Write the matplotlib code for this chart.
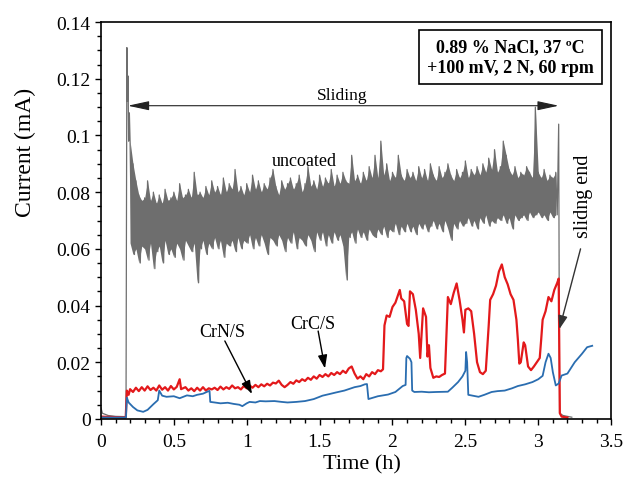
import numpy as np
import matplotlib.pyplot as plt
from matplotlib.ticker import MultipleLocator, FuncFormatter

plt.rcParams['font.family'] = ['Liberation Serif', 'DejaVu Serif']

# uncoated: rest, start-up spike
uncoated_head_t = [0.0, 0.01, 0.05, 0.10, 0.172, 0.178, 0.182, 0.186, 0.19, 0.195]
uncoated_head_y = [0.004, 0.002, 0.0012, 0.0009, 0.0008, 0.131, 0.112, 0.121, 0.098, 0.108]

# uncoated during sliding, one reading every 0.01 h from 0.20 h (one row = 0.1 h),
# alternating upper / lower swing of the noise
uncoated_sliding = [
    0.098, 0.062, 0.090, 0.058, 0.084, 0.060, 0.079, 0.055, 0.077, 0.061,
    0.078, 0.060, 0.084, 0.056, 0.077, 0.062, 0.080, 0.053, 0.076, 0.059,
    0.079, 0.061, 0.076, 0.055, 0.081, 0.063, 0.077, 0.058, 0.078, 0.060,
    0.080, 0.057, 0.077, 0.062, 0.083, 0.060, 0.078, 0.056, 0.079, 0.063,
    0.081, 0.061, 0.078, 0.059, 0.087, 0.062, 0.079, 0.048, 0.080, 0.060,
    0.078, 0.063, 0.082, 0.058, 0.079, 0.062, 0.084, 0.060, 0.080, 0.064,
    0.082, 0.060, 0.079, 0.063, 0.085, 0.057, 0.080, 0.062, 0.083, 0.061,
    0.081, 0.063, 0.088, 0.059, 0.080, 0.064, 0.082, 0.060, 0.079, 0.063,
    0.083, 0.062, 0.080, 0.065, 0.086, 0.060, 0.081, 0.064, 0.084, 0.061,
    0.080, 0.065, 0.083, 0.062, 0.081, 0.058, 0.085, 0.064, 0.088, 0.063,
    0.082, 0.061, 0.079, 0.065, 0.084, 0.063, 0.081, 0.059, 0.083, 0.064,
    0.085, 0.062, 0.081, 0.066, 0.083, 0.060, 0.086, 0.064, 0.080, 0.063,
    0.083, 0.061, 0.089, 0.065, 0.082, 0.063, 0.084, 0.059, 0.081, 0.066,
    0.086, 0.063, 0.082, 0.066, 0.085, 0.061, 0.083, 0.065, 0.088, 0.062,
    0.082, 0.066, 0.086, 0.063, 0.083, 0.065, 0.087, 0.061, 0.084, 0.049,
    0.083, 0.064, 0.093, 0.066, 0.084, 0.062, 0.086, 0.067, 0.083, 0.064,
    0.087, 0.066, 0.084, 0.063, 0.089, 0.067, 0.085, 0.065, 0.093, 0.064,
    0.085, 0.067, 0.098, 0.065, 0.086, 0.068, 0.090, 0.064, 0.084, 0.067,
    0.087, 0.066, 0.085, 0.069, 0.093, 0.065, 0.086, 0.068, 0.084, 0.066,
    0.088, 0.069, 0.085, 0.066, 0.087, 0.068, 0.084, 0.065, 0.089, 0.069,
    0.085, 0.067, 0.088, 0.069, 0.084, 0.066, 0.090, 0.068, 0.086, 0.070,
    0.084, 0.067, 0.089, 0.069, 0.085, 0.066, 0.087, 0.070, 0.090, 0.067,
    0.086, 0.063, 0.084, 0.069, 0.088, 0.067, 0.085, 0.070, 0.087, 0.068,
    0.091, 0.069, 0.085, 0.071, 0.088, 0.068, 0.086, 0.070, 0.089, 0.067,
    0.086, 0.071, 0.090, 0.069, 0.087, 0.072, 0.092, 0.068, 0.088, 0.070,
    0.095, 0.069, 0.087, 0.071, 0.089, 0.070, 0.098, 0.072, 0.093, 0.069,
    0.088, 0.071, 0.086, 0.067, 0.089, 0.072, 0.085, 0.070, 0.087, 0.071,
    0.086, 0.072, 0.089, 0.070, 0.087, 0.073, 0.085, 0.071, 0.110, 0.072,
    0.087, 0.073, 0.085, 0.071, 0.088, 0.072, 0.084, 0.070, 0.086, 0.073,
    0.085, 0.071, 0.087, 0.072,
]

# uncoated: sliding stopped
uncoated_tail_t = [3.14, 3.146, 3.17, 3.23]
uncoated_tail_y = [0.104, 0.002, 0.0012, 0.0006]

# CrC/S (t [h], I [mA])
crc = [
    (0.0, 0.0008), (0.17, 0.0005), (0.178, 0.010), (0.19, 0.0085), (0.20, 0.0105),
    (0.22, 0.0095), (0.24, 0.0110), (0.26, 0.0098), (0.28, 0.0112), (0.30, 0.0100),
    (0.32, 0.0115), (0.34, 0.0102), (0.36, 0.0110), (0.38, 0.0100), (0.40, 0.0118),
    (0.42, 0.0103), (0.44, 0.0112), (0.46, 0.0100), (0.48, 0.0116), (0.50, 0.0104),
    (0.52, 0.0113), (0.54, 0.0140), (0.55, 0.0105), (0.58, 0.0112), (0.60, 0.0100),
    (0.62, 0.0108), (0.64, 0.0098), (0.66, 0.0110), (0.68, 0.0100), (0.70, 0.0112),
    (0.72, 0.0100), (0.74, 0.0108), (0.76, 0.0104), (0.78, 0.0110), (0.80, 0.0102),
    (0.82, 0.0114), (0.84, 0.0104), (0.86, 0.0112), (0.88, 0.0106), (0.90, 0.0118),
    (0.92, 0.0108), (0.94, 0.0112), (0.96, 0.0104), (0.98, 0.0116), (1.00, 0.0108),
    (1.02, 0.0118), (1.04, 0.0110), (1.06, 0.0120), (1.08, 0.0112), (1.10, 0.0122),
    (1.12, 0.0115), (1.14, 0.0124), (1.16, 0.0118), (1.18, 0.0128), (1.20, 0.0125),
    (1.22, 0.0135), (1.24, 0.0120), (1.26, 0.0112), (1.28, 0.0120), (1.30, 0.0130),
    (1.32, 0.0124), (1.34, 0.0136), (1.36, 0.0130), (1.38, 0.0140), (1.40, 0.0134),
    (1.42, 0.0145), (1.44, 0.0138), (1.46, 0.0150), (1.48, 0.0142), (1.50, 0.0155),
    (1.52, 0.0148), (1.54, 0.0158), (1.56, 0.0150), (1.58, 0.0162), (1.60, 0.0155),
    (1.62, 0.0165), (1.64, 0.0158), (1.66, 0.0170), (1.68, 0.0162), (1.70, 0.0178),
    (1.72, 0.0185), (1.74, 0.0160), (1.76, 0.0142), (1.78, 0.0150), (1.80, 0.0140),
    (1.82, 0.0158), (1.84, 0.0150), (1.86, 0.0165), (1.88, 0.0158), (1.90, 0.0172),
    (1.92, 0.0168), (1.935, 0.0175), (1.945, 0.0330), (1.96, 0.0365), (1.98, 0.0360),
    (2.00, 0.0395), (2.02, 0.0410), (2.04, 0.0440), (2.05, 0.0455), (2.06, 0.0425),
    (2.08, 0.0415), (2.10, 0.0335), (2.11, 0.0328), (2.12, 0.0450), (2.14, 0.0440),
    (2.16, 0.0385), (2.18, 0.0300), (2.19, 0.0215), (2.21, 0.0390), (2.23, 0.0360),
    (2.24, 0.0220), (2.25, 0.0260), (2.26, 0.0180), (2.28, 0.0145), (2.30, 0.0150),
    (2.32, 0.0148), (2.34, 0.0155), (2.36, 0.0160), (2.37, 0.0300), (2.38, 0.0430),
    (2.40, 0.0405), (2.42, 0.0445), (2.44, 0.0478), (2.46, 0.0420), (2.48, 0.0350),
    (2.49, 0.0305), (2.50, 0.0385), (2.52, 0.0390), (2.54, 0.0380), (2.56, 0.0300),
    (2.58, 0.0200), (2.60, 0.0165), (2.62, 0.0158), (2.64, 0.0170), (2.66, 0.0330),
    (2.67, 0.0420), (2.69, 0.0440), (2.71, 0.0470), (2.73, 0.0520), (2.75, 0.0545),
    (2.77, 0.0500), (2.79, 0.0475), (2.81, 0.0440), (2.83, 0.0420), (2.85, 0.0350),
    (2.86, 0.0280), (2.87, 0.0195), (2.88, 0.0200), (2.90, 0.0270), (2.91, 0.0260),
    (2.93, 0.0185), (2.95, 0.0172), (2.97, 0.0185), (2.99, 0.0200), (3.01, 0.0215),
    (3.02, 0.0280), (3.03, 0.0350), (3.05, 0.0380), (3.07, 0.0430), (3.09, 0.0415),
    (3.11, 0.0455), (3.13, 0.0480), (3.14, 0.0495), (3.148, 0.0020), (3.16, 0.0008),
    (3.20, 0.0005),
]

# CrN/S (t [h], I [mA])
crn = [
    (0.0, 0.0005), (0.172, 0.0005), (0.178, 0.0075), (0.19, 0.0058), (0.22, 0.0042),
    (0.25, 0.0030), (0.29, 0.0025), (0.32, 0.0032), (0.36, 0.0052), (0.39, 0.0066),
    (0.40, 0.0100), (0.42, 0.0082), (0.45, 0.0078), (0.50, 0.0080), (0.54, 0.0073),
    (0.59, 0.0083), (0.63, 0.0080), (0.66, 0.0085), (0.70, 0.0089), (0.73, 0.0096),
    (0.745, 0.0099), (0.75, 0.0060), (0.78, 0.0058), (0.82, 0.0055), (0.87, 0.0057),
    (0.91, 0.0053), (0.95, 0.0050), (0.97, 0.0045), (1.00, 0.0055), (1.02, 0.0060),
    (1.06, 0.0058), (1.09, 0.0063), (1.13, 0.0062), (1.19, 0.0063), (1.24, 0.0060),
    (1.28, 0.0058), (1.34, 0.0060), (1.40, 0.0063), (1.46, 0.0070), (1.52, 0.0082),
    (1.57, 0.0088), (1.61, 0.0093), (1.67, 0.0100), (1.74, 0.0112), (1.78, 0.0116),
    (1.81, 0.0122), (1.825, 0.0123), (1.835, 0.0070), (1.90, 0.0080), (1.97, 0.0086),
    (2.02, 0.0095), (2.07, 0.0116), (2.09, 0.0120), (2.095, 0.0215), (2.10, 0.0222),
    (2.12, 0.0212), (2.13, 0.0200), (2.135, 0.0100), (2.15, 0.0095), (2.20, 0.0096),
    (2.25, 0.0094), (2.30, 0.0095), (2.38, 0.0096), (2.41, 0.0110), (2.45, 0.0130),
    (2.48, 0.0150), (2.50, 0.0170), (2.505, 0.0236), (2.512, 0.0200), (2.52, 0.0085),
    (2.55, 0.0082), (2.59, 0.0078), (2.63, 0.0085), (2.68, 0.0095), (2.72, 0.0098),
    (2.77, 0.0100), (2.82, 0.0108), (2.86, 0.0116), (2.91, 0.0122), (2.96, 0.0130),
    (3.00, 0.0140), (3.03, 0.0152), (3.05, 0.0200), (3.07, 0.0230), (3.085, 0.0215),
    (3.10, 0.0165), (3.12, 0.0118), (3.14, 0.0125), (3.16, 0.0153), (3.20, 0.0160),
    (3.25, 0.0200), (3.30, 0.0230), (3.335, 0.0253), (3.37, 0.0258),
]

x_ticks = [0, 0.5, 1, 1.5, 2, 2.5, 3, 3.5]
y_ticks = [0, 0.02, 0.04, 0.06, 0.08, 0.1, 0.12, 0.14]

gray = '#6e6e6e'
red = '#e3191b'
blue = '#2a6db0'

t_sliding = 0.20 + 0.01 * np.arange(len(uncoated_sliding))
t_unc = np.concatenate([uncoated_head_t, t_sliding, uncoated_tail_t])
i_unc = np.concatenate([uncoated_head_y, uncoated_sliding, uncoated_tail_y])
t_crc, i_crc = np.array(crc).T
t_crn, i_crn = np.array(crn).T

fig = plt.figure(figsize=(6.23, 4.81), dpi=100)
ax = fig.add_axes([0.162, 0.127, 0.819, 0.825])

# dense noise band: fill between the upper and lower swings, trace on top
hi = np.array(uncoated_sliding[0::2])
lo = np.array(uncoated_sliding[1::2])
n = min(len(hi), len(lo))
ax.fill_between(t_sliding[0::2][:n], lo[:n], hi[:n], color=gray, lw=0)
ax.plot(t_unc, i_unc, color=gray, lw=0.9)
ax.plot(t_crc, i_crc, color=red, lw=1.6)
ax.plot(t_crn, i_crn, color=blue, lw=1.3)

ax.set_xlim(0, 3.5)
ax.set_ylim(0, 0.14)
ax.set_xticks(x_ticks)
ax.set_yticks(y_ticks)
ax.xaxis.set_minor_locator(MultipleLocator(0.1))
ax.yaxis.set_minor_locator(MultipleLocator(0.005))
fmt = FuncFormatter(lambda v, p: '%g' % round(v, 3))
ax.xaxis.set_major_formatter(fmt)
ax.yaxis.set_major_formatter(fmt)
ax.tick_params(which='major', direction='out', length=4, width=1, labelsize=14, colors='black')
ax.tick_params(which='minor', direction='out', length=3, width=1)
ax.tick_params(axis='x', pad=6)
for s in ax.spines.values():
    s.set_linewidth(1.2)

ax.set_xlabel('Time (h)', fontsize=16)
ax.set_ylabel('Current (mA)', fontsize=17)
ax.xaxis.set_label_coords(0.512, -0.09)
ax.yaxis.set_label_coords(-0.128, 0.675)

# sliding period
ax.annotate('', xy=(0.185, 0.1105), xytext=(3.14, 0.1105),
            arrowprops=dict(arrowstyle='<|-|>,head_length=1.3,head_width=0.28',
                            color='#222222', lw=0.8, shrinkA=0, shrinkB=0))
ax.text(1.655, 0.1142, 'Sliding', fontsize=12.5, ha='center', va='center')
ax.text(1.395, 0.091, 'uncoated', fontsize=13, ha='center', va='center')

head = '-|>,head_length=0.8,head_width=0.28'
ax.text(0.83, 0.031, 'CrN/S', fontsize=13, ha='center', va='center')
ax.annotate('', xy=(1.036, 0.0088), xytext=(0.85, 0.0275),
            arrowprops=dict(arrowstyle=head, color='black', lw=1.0, shrinkA=0, shrinkB=0))
ax.text(1.455, 0.0338, 'CrC/S', fontsize=13, ha='center', va='center')
ax.annotate('', xy=(1.537, 0.0178), xytext=(1.49, 0.031),
            arrowprops=dict(arrowstyle=head, color='black', lw=1.0, shrinkA=0, shrinkB=0))
ax.annotate('', xy=(3.145, 0.0317), xytext=(3.29, 0.060),
            arrowprops=dict(arrowstyle=head, color='#333333', lw=1.0, shrinkA=0, shrinkB=0))
ax.text(3.31, 0.079, 'slidng end', fontsize=14.5, rotation=90, ha='center', va='center')

ax.text(0.802, 0.911, '0.89 % NaCl, 37 \u00baC\n+100 mV, 2 N, 60 rpm', transform=ax.transAxes,
        fontsize=13, fontweight='bold', ha='center', va='center', linespacing=1.3,
        bbox=dict(boxstyle='square,pad=0.45', fc='white', ec='black', lw=1.2))

fig.savefig('out.png', dpi=100)
